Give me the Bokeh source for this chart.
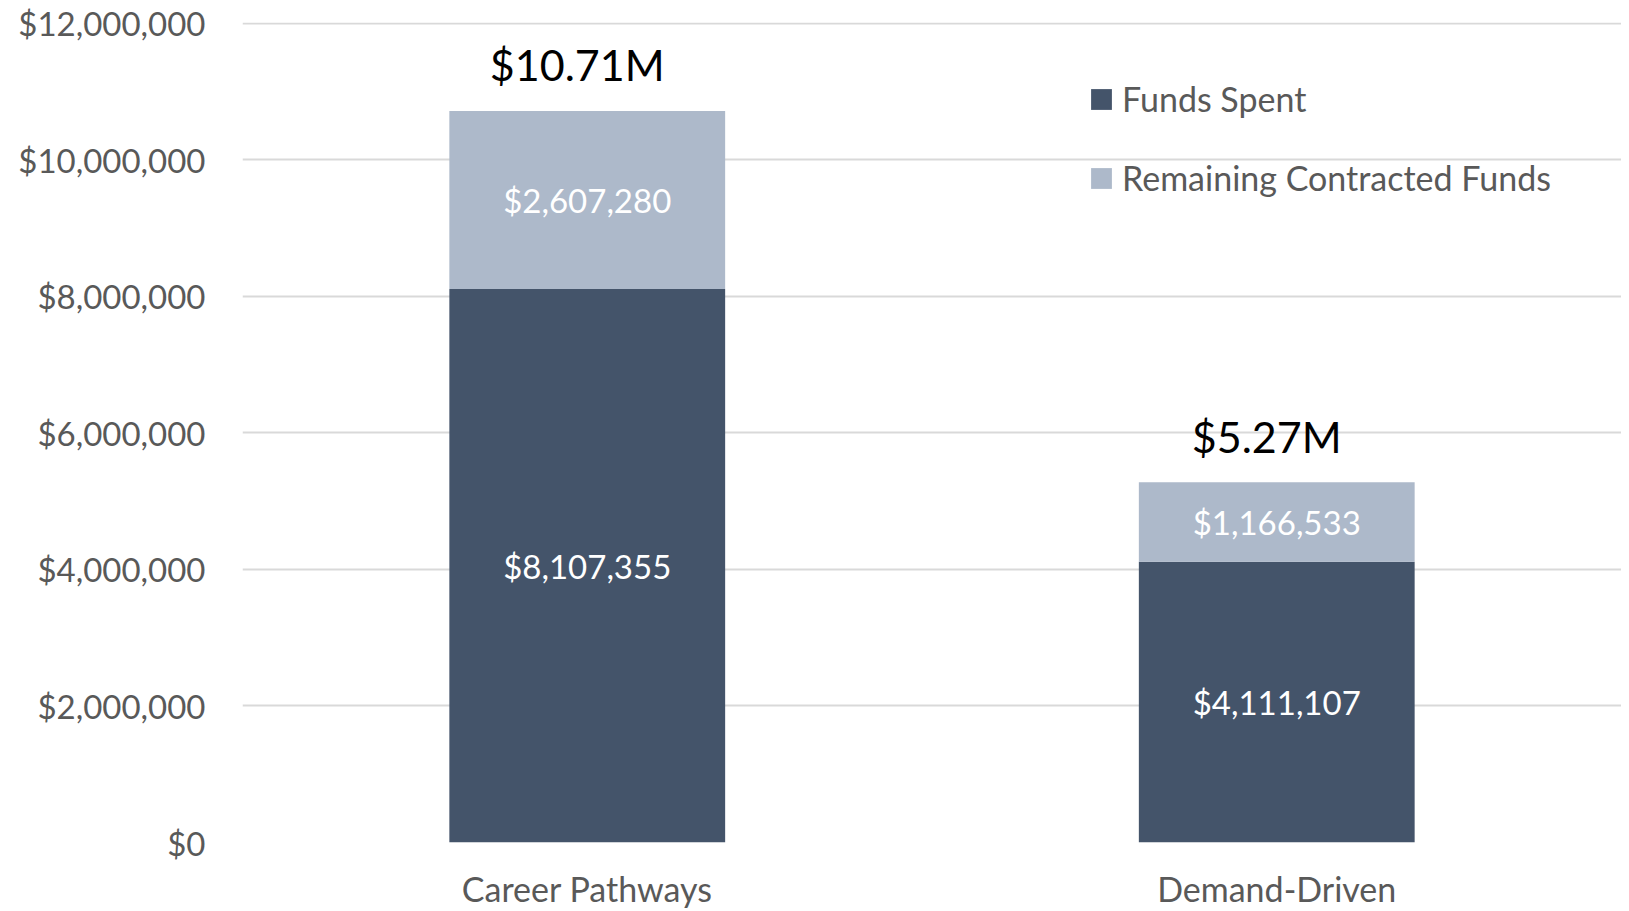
import numpy as np
from bokeh.plotting import figure
from bokeh.models import ColumnDataSource, FactorRange, NumeralTickFormatter, FixedTicker, LabelSet
from bokeh.core.properties import value
from bokeh.embed import file_html
from bokeh.resources import INLINE

categories = ["Career Pathways", "Demand-Driven"]
funds_spent = [8107355, 4111107]
remaining = [2607280, 1166533]
total_labels = ["$10.71M", "$5.27M"]
series_names = ["Funds Spent", "Remaining Contracted Funds"]
y_ticks = [0, 2000000, 4000000, 6000000, 8000000, 10000000, 12000000]

DARK = "#44546A"
LIGHT = "#ADB9CA"
FONT = "Lato"

spent = np.array(funds_spent, dtype=float)
rem = np.array(remaining, dtype=float)

src = ColumnDataSource(dict(
    cat=categories,
    spent=spent,
    remaining=rem,
    spent_mid=spent / 2,
    rem_mid=spent + rem / 2,
    total=spent + rem,
    spent_lbl=["${:,}".format(v) for v in funds_spent],
    rem_lbl=["${:,}".format(v) for v in remaining],
    tot_lbl=total_labels,
))

p = figure(x_range=FactorRange(factors=categories), y_range=(0, 12010000),
           frame_width=1379, frame_height=820, output_backend="svg", toolbar_location=None,
           min_border_left=242, min_border_top=22, min_border_bottom=50, min_border_right=0)
p.outline_line_color = None
p.background_fill_color = "white"

p.vbar_stack(["spent", "remaining"], x="cat", width=0.4, source=src,
             color=[DARK, LIGHT], line_color=None, legend_label=series_names)

# labels
p.add_layout(LabelSet(x="cat", y="spent_mid", text="spent_lbl", source=src,
                      text_align="center", text_baseline="middle",
                      text_color="white", text_font=value(FONT), text_font_size="33px"))
p.add_layout(LabelSet(x="cat", y="rem_mid", text="rem_lbl", source=src,
                      text_align="center", text_baseline="middle",
                      text_color="white", text_font=value(FONT), text_font_size="33px"))
p.add_layout(LabelSet(x="cat", y="total", text="tot_lbl", source=src,
                      text_align="center", text_baseline="middle", x_offset=-10, y_offset=46,
                      text_color="black", text_font=value(FONT), text_font_size="43px"))

# axes
p.yaxis.ticker = FixedTicker(ticks=y_ticks)
p.yaxis.formatter = NumeralTickFormatter(format="$0,0")
p.yaxis.axis_line_color = None
p.yaxis.major_tick_line_color = None
p.yaxis.minor_tick_line_color = None
p.yaxis.major_label_text_font = FONT
p.yaxis.major_label_text_font_size = "33px"
p.yaxis.major_label_text_color = "#595959"
p.yaxis.major_label_standoff = 31

p.xaxis.axis_line_color = None
p.xaxis.major_tick_line_color = None
p.xaxis.minor_tick_line_color = None
p.xaxis.major_label_text_font = FONT
p.xaxis.major_label_text_font_size = "34px"
p.xaxis.major_label_text_color = "#595959"
p.xaxis.major_label_standoff = 19

p.xgrid.grid_line_color = None
p.ygrid.grid_line_color = "#D9D9D9"
p.ygrid.grid_line_width = 2

# legend
lg = p.legend[0]
lg.location = (846, 644)
lg.padding = 0
lg.margin = 0
lg.spacing = 38
lg.glyph_width = 26
lg.glyph_height = 26
lg.label_height = 40
lg.label_standoff = 8
lg.label_text_font = FONT
lg.label_text_font_size = "34px"
lg.label_text_color = "#595959"
lg.border_line_color = None
lg.background_fill_alpha = 0

open("out.html", "w").write(file_html(p, INLINE))
